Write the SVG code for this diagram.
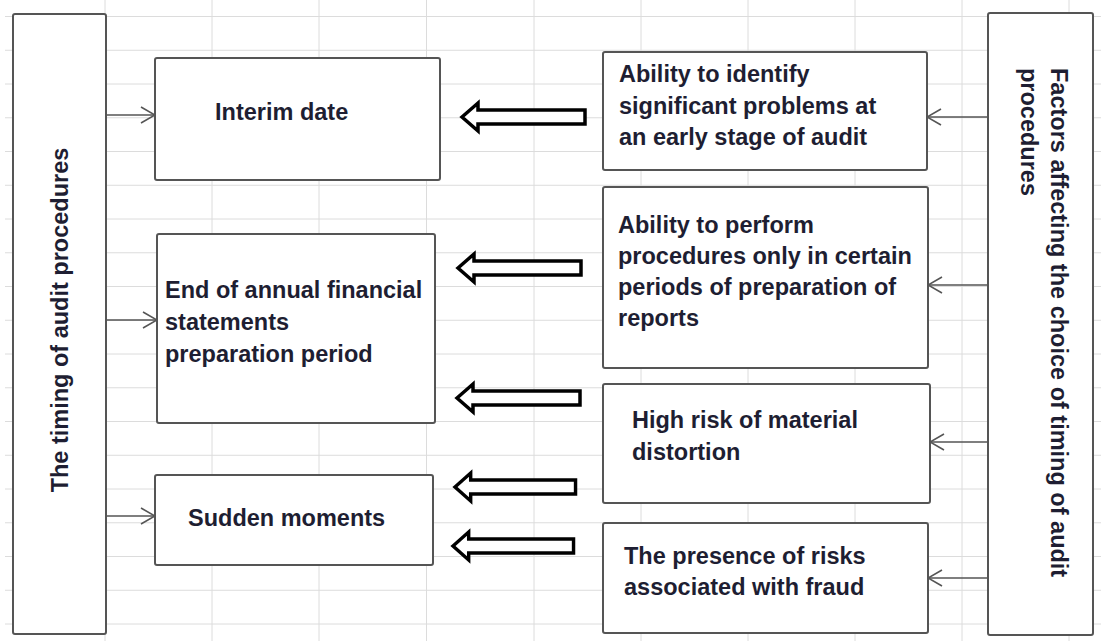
<svg xmlns="http://www.w3.org/2000/svg" width="1101" height="641" viewBox="0 0 1101 641">
<style>
.grid line{stroke:#dcdcdc;stroke-width:1}
.box{fill:#fff;stroke:#555;stroke-width:2}
.t{font-family:"Liberation Sans",Arial,sans-serif;font-weight:bold;font-size:23.5px;fill:#1e1e32}
.thin{stroke:#555;stroke-width:1.6;fill:none}
.block{fill:#fff;stroke:#000;stroke-width:3.5;stroke-linejoin:miter}
</style>
<defs>
<marker id="open" viewBox="0 0 16 18" refX="15" refY="9" markerWidth="16" markerHeight="18" markerUnits="userSpaceOnUse" orient="auto">
<path d="M1,1 L15,9 L1,17" fill="none" stroke="#555" stroke-width="1.6"/>
</marker>
<polygon id="blk" points="0,0 16,-14 16,-7 123,-7 123,7 16,7 16,14"/>
</defs>
<rect width="1101" height="641" fill="#fff"/>
<g class="grid">
<line x1="5" y1="16.5" x2="1101" y2="16.5"/><line x1="5" y1="50.25" x2="1101" y2="50.25"/><line x1="5" y1="84" x2="1101" y2="84"/><line x1="5" y1="117.75" x2="1101" y2="117.75"/><line x1="5" y1="151.5" x2="1101" y2="151.5"/><line x1="5" y1="185.25" x2="1101" y2="185.25"/><line x1="5" y1="219" x2="1101" y2="219"/><line x1="5" y1="252.75" x2="1101" y2="252.75"/><line x1="5" y1="286.5" x2="1101" y2="286.5"/><line x1="5" y1="320.25" x2="1101" y2="320.25"/><line x1="5" y1="354" x2="1101" y2="354"/><line x1="5" y1="387.75" x2="1101" y2="387.75"/><line x1="5" y1="421.5" x2="1101" y2="421.5"/><line x1="5" y1="455.25" x2="1101" y2="455.25"/><line x1="5" y1="489" x2="1101" y2="489"/><line x1="5" y1="522.75" x2="1101" y2="522.75"/><line x1="5" y1="556.5" x2="1101" y2="556.5"/><line x1="5" y1="590.25" x2="1101" y2="590.25"/><line x1="5" y1="624" x2="1101" y2="624"/>
<line x1="105" y1="0" x2="105" y2="641"/><line x1="212" y1="0" x2="212" y2="641"/><line x1="319" y1="0" x2="319" y2="641"/><line x1="426.5" y1="0" x2="426.5" y2="641"/><line x1="534" y1="0" x2="534" y2="641"/><line x1="641" y1="0" x2="641" y2="641"/><line x1="748" y1="0" x2="748" y2="641"/><line x1="855" y1="0" x2="855" y2="641"/><line x1="962" y1="0" x2="962" y2="641"/><line x1="1069" y1="0" x2="1069" y2="641"/>
</g>
<g id="connectors">
<line class="thin" x1="106" y1="115" x2="155" y2="115" marker-end="url(#open)"/>
<line class="thin" x1="106" y1="320" x2="157" y2="320" marker-end="url(#open)"/>
<line class="thin" x1="106" y1="516" x2="155" y2="516" marker-end="url(#open)"/>
<line class="thin" x1="988" y1="117" x2="927" y2="117" marker-end="url(#open)"/>
<line class="thin" x1="988" y1="285" x2="928" y2="285" marker-end="url(#open)"/>
<line class="thin" x1="988" y1="442" x2="930" y2="442" marker-end="url(#open)"/>
<line class="thin" x1="988" y1="578" x2="928" y2="578" marker-end="url(#open)"/>
<use href="#blk" class="block" transform="translate(462,117)"/>
<use href="#blk" class="block" transform="translate(458,268)"/>
<use href="#blk" class="block" transform="translate(457,398)"/>
<use href="#blk" class="block" transform="translate(455,487) scale(0.98,1)"/>
<use href="#blk" class="block" transform="translate(453,546) scale(0.98,1)"/>
</g>
<g id="timing">
<rect class="box" x="13" y="14" width="93" height="620" rx="2"/>
<text class="t" text-anchor="middle" transform="translate(68,320) rotate(-90)">The timing of audit procedures</text>
</g>
<g id="interim">
<rect class="box" x="155" y="58" width="285" height="122" rx="2"/>
<text class="t" x="215" y="120">Interim date</text>
</g>
<g id="endperiod">
<rect class="box" x="157" y="234" width="278" height="189" rx="2"/>
<text class="t" x="165" y="298">End of annual financial</text>
<text class="t" x="165" y="330">statements</text>
<text class="t" x="165" y="362">preparation period</text>
</g>
<g id="sudden">
<rect class="box" x="155" y="475" width="278" height="90" rx="2"/>
<text class="t" x="188" y="526">Sudden moments</text>
</g>
<g id="factors">
<rect class="box" x="988" y="13" width="105" height="622" rx="2"/>
<text class="t" transform="translate(1051,68) rotate(90)">Factors affecting the choice of timing of audit</text>
<text class="t" transform="translate(1021,68) rotate(90)">procedures</text>
</g>
<g id="f1">
<rect class="box" x="603" y="52" width="324" height="118" rx="2"/>
<text class="t" x="619" y="82">Ability to identify</text>
<text class="t" x="619" y="114">significant problems at</text>
<text class="t" x="619" y="145">an early stage of audit</text>
</g>
<g id="f2">
<rect class="box" x="603" y="187" width="325" height="181" rx="2"/>
<text class="t" x="618" y="233">Ability to perform</text>
<text class="t" x="618" y="264">procedures only in certain</text>
<text class="t" x="618" y="295">periods of preparation of</text>
<text class="t" x="618" y="326">reports</text>
</g>
<g id="f3">
<rect class="box" x="603" y="384" width="327" height="119" rx="2"/>
<text class="t" x="632" y="428">High risk of material</text>
<text class="t" x="632" y="460">distortion</text>
</g>
<g id="f4">
<rect class="box" x="603" y="523" width="325" height="110" rx="2"/>
<text class="t" x="624" y="564">The presence of risks</text>
<text class="t" x="624" y="595">associated with fraud</text>
</g>
</svg>
